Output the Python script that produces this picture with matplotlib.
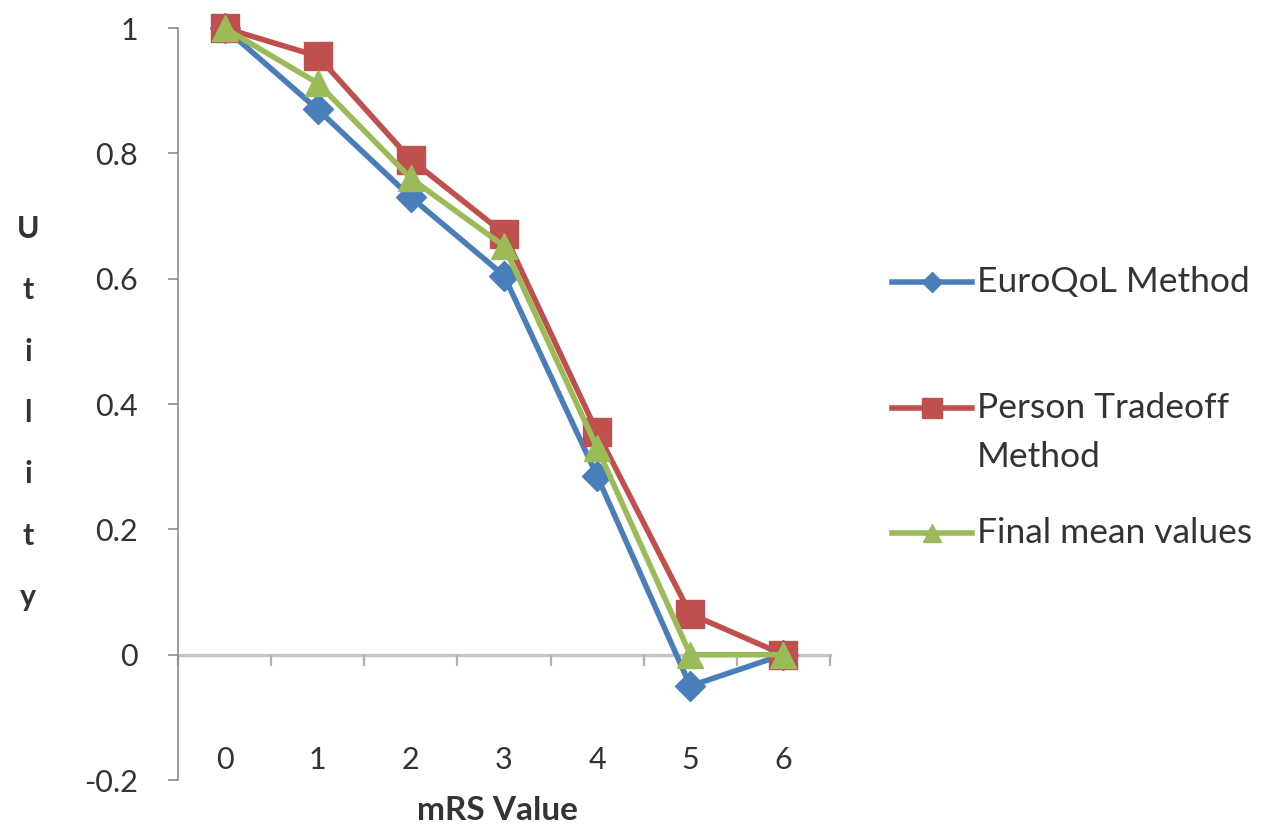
import matplotlib
matplotlib.use("Agg")
import matplotlib.pyplot as plt
from matplotlib.lines import Line2D

W, H = 1278, 830
FONT = "Lato"
TXT = "#333333"

mrs = [0, 1, 2, 3, 4, 5, 6]
euroqol = [1.0, 0.87, 0.73, 0.605, 0.285, -0.05, 0.0]
pto = [1.0, 0.955, 0.79, 0.672, 0.355, 0.065, 0.0]
final_mean = [1.0, 0.912, 0.76, 0.652, 0.33, 0.0, 0.0]

# label, values, colour, marker, plot marker size, legend marker size
series = [
    ("EuroQoL Method", euroqol, "#4a7ebb", "D", 15, 10),
    ("Person Tradeoff\nMethod", pto, "#c0504d", "s", 20, 15),
    ("Final mean values", final_mean, "#9bbb59", "^", 19, 13),
]

yticks = [-0.2, 0, 0.2, 0.4, 0.6, 0.8, 1.0]
ylabels = ["-0.2", "0", "0.2", "0.4", "0.6", "0.8", "1"]

plt.rcParams["font.family"] = [FONT, "DejaVu Sans"]
fig = plt.figure(figsize=(W / 100, H / 100), dpi=100)
fig.patch.set_facecolor("white")

# plot area in pixel terms: x 178..830, y 28..780
ax = fig.add_axes([178 / W, 1 - 780 / H, (830 - 178) / W, (780 - 28) / H])
ax.set_xlim(-0.5, 6.5)
ax.set_ylim(-0.2, 1.0)

for name, vals, col, mk, ms, _ in series:
    ax.plot(mrs, vals, color=col, lw=4.0, marker=mk, ms=ms,
            markeredgecolor=col, clip_on=False, zorder=3)

for side in ("top", "right"):
    ax.spines[side].set_visible(False)
ax.spines["left"].set_color("#8c8c8c")
ax.spines["left"].set_linewidth(1.2)
ax.spines["bottom"].set_position(("data", 0))
ax.spines["bottom"].set_color("#c4c4c4")
ax.spines["bottom"].set_linewidth(2.4)
ax.spines["bottom"].set_zorder(1)

ax.set_yticks(yticks)
ax.set_yticklabels(ylabels, fontsize=22, color=TXT)
ax.tick_params(axis="y", direction="out", length=7, width=1.2,
               color="#8c8c8c", pad=22)

ax.set_xticks(mrs)
ax.set_xticklabels([str(m) for m in mrs], fontsize=22, color=TXT)
ax.set_xticks([m - 0.5 for m in mrs] + [6.5], minor=True)
ax.tick_params(axis="x", which="major", length=0, pad=66)
ax.tick_params(axis="x", which="minor", direction="out", length=8,
               width=1.6, color="#b0b0b0")

fig.text(497 / W, 1 - 810 / H, "mRS Value", ha="center", va="center",
         fontsize=24, fontweight="bold", color=TXT)
fig.text(28 / W, 1 - 413 / H, "U\nt\ni\nl\ni\nt\ny", ha="center",
         va="center", fontsize=22, fontweight="bold", color=TXT,
         linespacing=2.45)

# legend, built by hand so the handle sits on the first text line
rows = [282, 408, 533]
for (name, vals, col, mk, ms, lms), yp in zip(series, rows):
    y = 1 - yp / H
    fig.add_artist(Line2D([892 / W, 972 / W], [y, y], color=col, lw=4.0,
                          transform=fig.transFigure))
    fig.add_artist(Line2D([932 / W], [y], color=col, marker=mk, ms=lms,
                          markeredgecolor=col, transform=fig.transFigure))
    lines = name.split("\n")
    fig.text(977 / W, y, lines[0], ha="left", va="center", fontsize=25.5, color=TXT)
    if len(lines) > 1:
        fig.text(977 / W, 1 - 457 / H, lines[1], ha="left", va="center",
                 fontsize=25.5, color=TXT)

fig.savefig("out.png", dpi=100, facecolor="white")
